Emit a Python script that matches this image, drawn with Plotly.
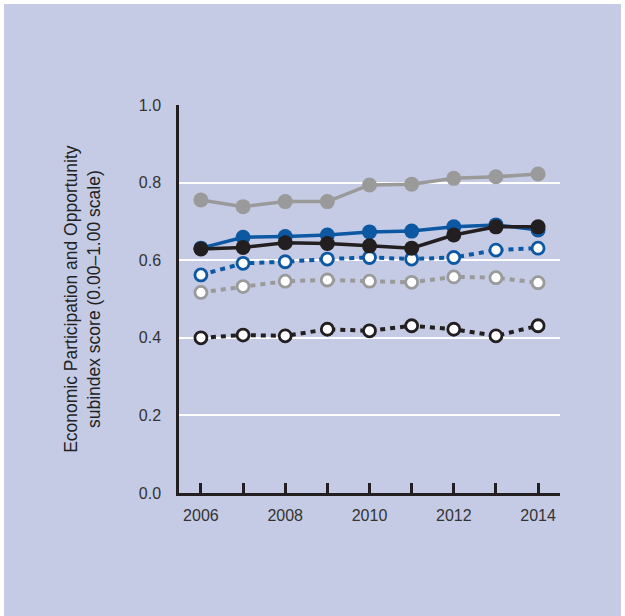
import plotly.graph_objects as go

years = [2006, 2007, 2008, 2009, 2010, 2011, 2012, 2013, 2014]
grey_solid = [0.755, 0.738, 0.751, 0.751, 0.794, 0.796, 0.811, 0.815, 0.822]
blue_solid = [0.631, 0.659, 0.661, 0.665, 0.673, 0.675, 0.686, 0.691, 0.678]
black_solid = [0.629, 0.633, 0.645, 0.643, 0.637, 0.631, 0.665, 0.686, 0.686]
blue_dotted = [0.562, 0.592, 0.596, 0.603, 0.607, 0.603, 0.607, 0.626, 0.631]
grey_dotted = [0.517, 0.532, 0.546, 0.549, 0.546, 0.543, 0.557, 0.555, 0.542]
black_dotted = [0.400, 0.407, 0.405, 0.422, 0.418, 0.431, 0.422, 0.405, 0.431]
x_ticktext = ["2006", "", "2008", "", "2010", "", "2012", "", "2014"]
y_tickvals = [0, 0.2, 0.4, 0.6, 0.8, 1.0]
y_ticktext = ["0.0", "0.2", "0.4", "0.6", "0.8", "1.0"]

BG = "#c5cbe4"
GREY = "#9a9a9a"
BLUE = "#0c58a2"
BLACK = "#231f20"
FONT = "Liberation Sans Narrow, Arial Narrow, Liberation Sans, Arial, sans-serif"

fig = go.Figure()

def add_filled(y, color):
    fig.add_trace(go.Scatter(x=years, y=y, mode="lines+markers",
                             line=dict(color=color, width=3.5),
                             marker=dict(color=color, size=15, line=dict(width=0)),
                             cliponaxis=False, showlegend=False, hoverinfo="skip"))

def add_open(y, color):
    fig.add_trace(go.Scatter(x=years, y=y, mode="lines+markers",
                             line=dict(color=color, width=4, dash="5px,5px"),
                             marker=dict(color="white", size=12, line=dict(color=color, width=2.8)),
                             cliponaxis=False, showlegend=False, hoverinfo="skip"))

add_open(black_dotted, BLACK)
add_open(grey_dotted, GREY)
add_open(blue_dotted, BLUE)
add_filled(grey_solid, GREY)
add_filled(blue_solid, BLUE)
add_filled(black_solid, BLACK)

fig.update_layout(
    width=619, height=612,
    paper_bgcolor=BG, plot_bgcolor=BG,
    margin=dict(l=175, r=63, t=101, b=123),
    font=dict(family=FONT, size=16, color="#333333"),
    xaxis=dict(range=[2005.48, 2014.52], tickmode="array",
               tickvals=years, ticktext=x_ticktext,
               ticks="inside", ticklen=10, tickwidth=2.5, tickcolor=BLACK,
               showline=True, linecolor=BLACK, linewidth=2.5,
               showgrid=False, zeroline=False, fixedrange=True,
               ticklabelstandoff=6,
               tickfont=dict(size=16, color="#333333")),
    yaxis=dict(range=[0, 1], tickvals=y_tickvals, ticktext=y_ticktext,
               showline=True, linecolor=BLACK, linewidth=2.5,
               showgrid=True, gridcolor="white", gridwidth=2,
               zeroline=False, ticks="", ticklabelstandoff=12,
               tickfont=dict(size=16, color="#333333")),
    annotations=[dict(
        text="Economic Participation and Opportunity<br>subindex score (0.00–1.00 scale)",
        xref="paper", yref="paper", x=-0.255, y=0.5,
        xanchor="center", yanchor="middle", textangle=-90, showarrow=False,
        font=dict(family=FONT, size=17.5, color="#222222"))],
)

fig.write_html("out.html",
               post_script="document.body.style.margin='4px';document.body.style.background='white';")
